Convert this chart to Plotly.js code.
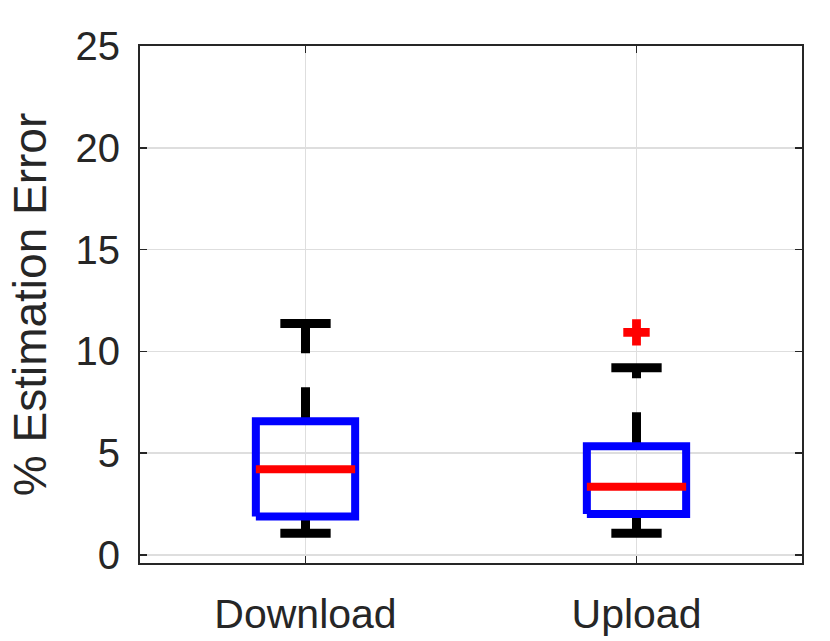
<!DOCTYPE html>
<html>
<head>
<meta charset="utf-8">
<script src="https://cdn.plot.ly/plotly-3.0.1.min.js"></script>
<style>html,body{margin:0;padding:0;background:#fff;}#chart{width:830px;height:641px;}</style>
</head>
<body>
<div id="chart"></div>
<script>
// Data
const categories = ['Download', 'Upload'];
const lowerWhisker = [1.06, 1.06];
const q1 = [1.89, 2.01];
const medians = [4.20, 3.34];
const q3 = [6.56, 5.33];
const upperWhisker = [11.37, 9.19];
const outlierCategory = [2];
const outlierValues = [10.93];
const yTicks = [0, 5, 10, 15, 20, 25];

const boxHalf = 0.15;
const capHalf = 0.076;
const traces = [];
const pos = categories.map((c, i) => i + 1);

pos.forEach((p, i) => {
  // whiskers (dashed)
  traces.push({x: [p, p], y: [q3[i], upperWhisker[i]], mode: 'lines', hoverinfo: 'skip',
    line: {color: '#000000', width: 9, dash: '34px,34px'}});
  traces.push({x: [p, p], y: [q1[i], lowerWhisker[i]], mode: 'lines', hoverinfo: 'skip',
    line: {color: '#000000', width: 9, dash: '34px,34px'}});
  // caps
  traces.push({x: [p - capHalf, p + capHalf], y: [upperWhisker[i], upperWhisker[i]], mode: 'lines', hoverinfo: 'skip',
    line: {color: '#000000', width: 9}});
  traces.push({x: [p - capHalf, p + capHalf], y: [lowerWhisker[i], lowerWhisker[i]], mode: 'lines', hoverinfo: 'skip',
    line: {color: '#000000', width: 9}});
});
pos.forEach((p, i) => {
  // box
  traces.push({x: [p - boxHalf, p + boxHalf, p + boxHalf, p - boxHalf, p - boxHalf],
    y: [q1[i], q1[i], q3[i], q3[i], q1[i]], mode: 'lines', hoverinfo: 'skip',
    line: {color: '#0000FF', width: 8}});
});
pos.forEach((p, i) => {
  // median
  traces.push({x: [p - boxHalf, p + boxHalf], y: [medians[i], medians[i]], mode: 'lines', hoverinfo: 'skip',
    line: {color: '#FF0000', width: 8}});
});
traces.push({x: outlierCategory, y: outlierValues, mode: 'markers', hoverinfo: 'skip',
  marker: {symbol: 'cross', size: 22, color: '#FF0000', line: {width: 0}}});

const fontFam = '"Liberation Sans", Arial, Helvetica, sans-serif';
const layout = {
  width: 830, height: 641,
  margin: {l: 140, r: 28, t: 46, b: 78},
  paper_bgcolor: '#ffffff', plot_bgcolor: '#ffffff',
  showlegend: false,
  font: {family: fontFam, color: '#262626'},
  xaxis: {
    range: [0.5, 2.5], tickvals: pos, ticktext: categories,
    showgrid: true, gridcolor: '#dedede', gridwidth: 1.5, zeroline: false,
    showline: true, mirror: 'ticks', linecolor: '#262626', linewidth: 2,
    ticks: 'inside', ticklen: 7, tickwidth: 1.5, tickcolor: '#262626',
    tickfont: {size: 41, family: fontFam, color: '#262626'},
    ticklabelstandoff: 14
  },
  yaxis: {
    range: [-0.4, 25], tickvals: yTicks,
    showgrid: true, gridcolor: '#dedede', gridwidth: 1.5, zeroline: false,
    showline: true, mirror: 'ticks', linecolor: '#262626', linewidth: 2,
    ticks: 'inside', ticklen: 7, tickwidth: 1.5, tickcolor: '#262626',
    tickfont: {size: 40, family: fontFam, color: '#262626'},
    ticklabelstandoff: 10,
    title: {text: '% Estimation Error', font: {size: 46, family: fontFam, color: '#262626'}, standoff: 14}
  }
};
Plotly.newPlot('chart', traces, layout, {displayModeBar: false, staticPlot: true});
</script>
</body>
</html>
